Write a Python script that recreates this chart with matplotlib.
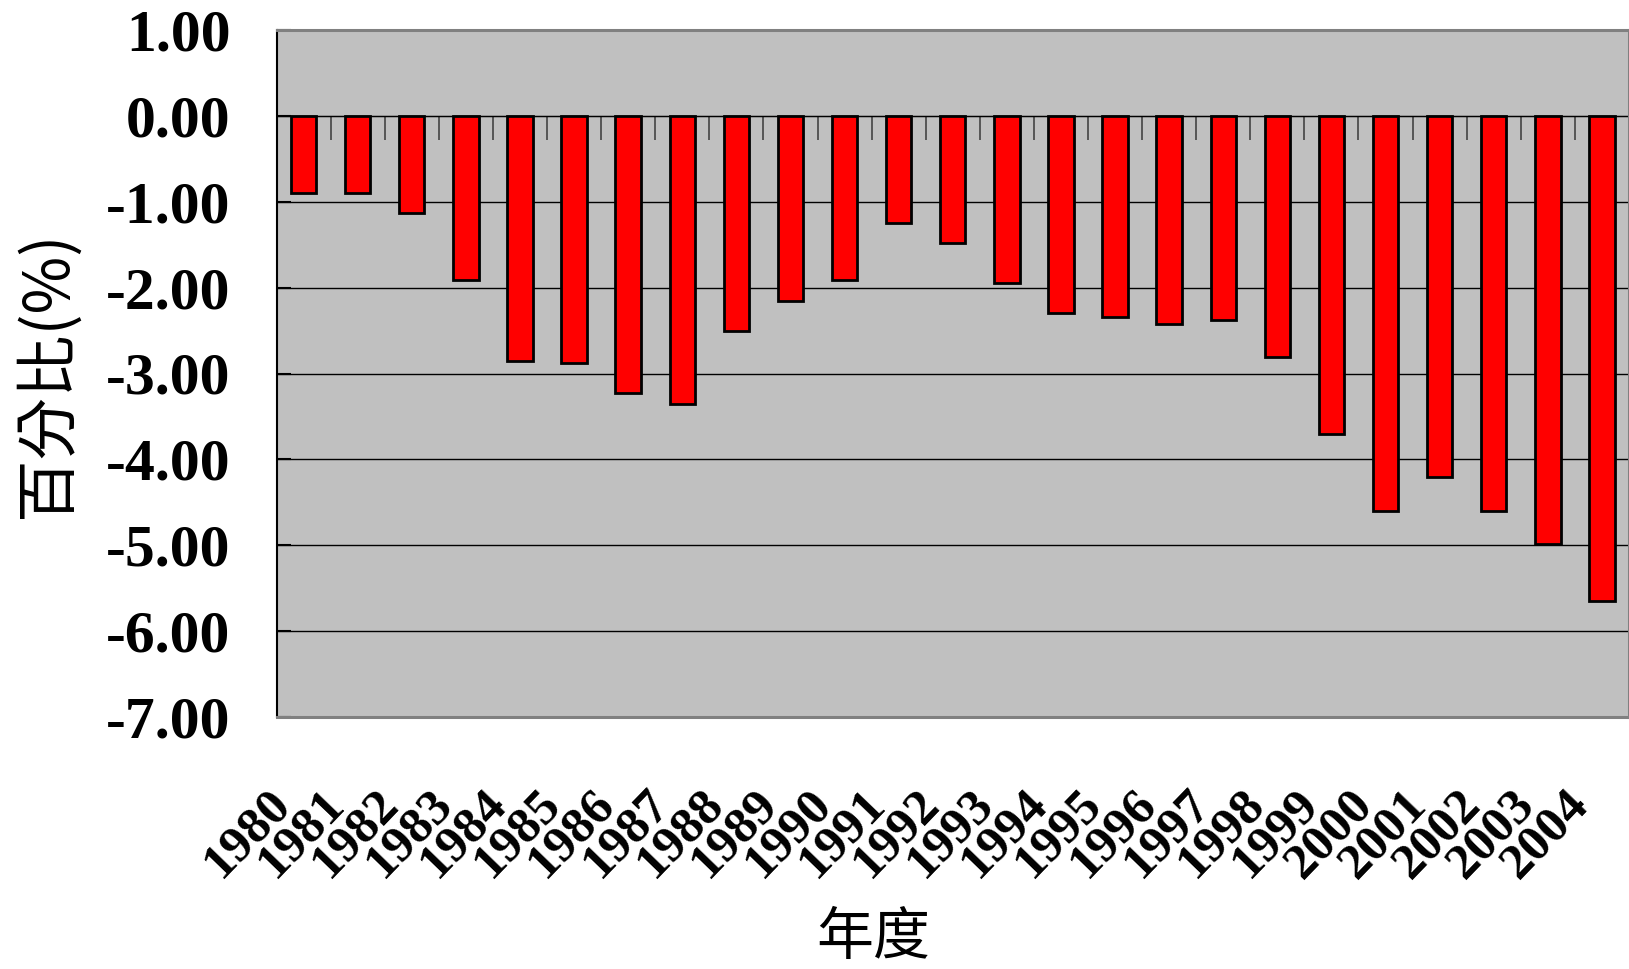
import matplotlib
matplotlib.use("Agg")
import matplotlib.pyplot as plt
import matplotlib.transforms as mtransforms
import numpy as np

# Annual percentage values, 1980-2004
years = [str(y) for y in range(1980, 2005)]
values = [-0.90, -0.90, -1.13, -1.91, -2.85, -2.88, -3.23, -3.35, -2.50, -2.15,
          -1.91, -1.25, -1.48, -1.95, -2.30, -2.34, -2.42, -2.38, -2.81, -3.70,
          -4.60, -4.21, -4.60, -4.99, -5.65]
y_ticks = [1.0, 0.0, -1.0, -2.0, -3.0, -4.0, -5.0, -6.0, -7.0]
y_label = "百分比(%)"
x_label = "年度"

num_font = "Liberation Serif"
cjk_font = ["Noto Sans CJK TC", "DejaVu Sans"]

fig = plt.figure(figsize=(16.29, 9.69), dpi=100)
ax = fig.add_axes([276.5 / 1629, 1 - 717 / 969, 1 - 276.5 / 1629, (717 - 30) / 969])
ax.set_facecolor("#C0C0C0")

x = np.arange(len(years))
ax.bar(x, values, width=0.47, color="#FF0000", edgecolor="black", linewidth=2.0, zorder=3)

ymin, ymax = -7.0, 1.0
ax.set_ylim(ymin, ymax)
ax.set_xlim(-0.5, len(years) - 0.5)

# horizontal gridlines
for v in y_ticks[1:-1]:
    ax.axhline(v, color="black", linewidth=1.0, zorder=1)

# y axis
ax.set_yticks(y_ticks)
ax.set_yticklabels([f"{v:.2f}" for v in y_ticks], fontfamily=num_font,
                   fontweight="bold", fontsize=43)
ax.tick_params(axis="y", direction="in", length=10, width=1.5, pad=33, colors="black")

# category labels below the plot
ax.set_xticks(x)
ax.set_xticklabels(years, fontfamily=num_font, fontweight="bold", fontsize=37,
                   rotation=46, ha="right", va="top")
ax.tick_params(axis="x", length=0, pad=46)
shift = mtransforms.ScaledTranslation(-4 / 100, 0, fig.dpi_scale_trans)
for lab in ax.get_xticklabels():
    lab.set_transform(lab.get_transform() + shift)

# category axis drawn along zero, with boundary ticks pointing up
zero_frac = (0 - ymin) / (ymax - ymin)
sec = ax.secondary_xaxis(zero_frac)
sec.set_xticks(np.arange(len(years) - 1) + 0.5)
sec.set_xticklabels([])
sec.tick_params(axis="x", direction="in", length=17, width=1.2, colors="#444444")
sec.spines["bottom"].set_color("black")
sec.spines["bottom"].set_linewidth(1.2)
sec.spines["bottom"].set_zorder(4)

# plot frame
ax.spines["left"].set_color("black")
ax.spines["left"].set_linewidth(1.5)
for side in ("top", "bottom", "right"):
    ax.spines[side].set_color("#808080")
    ax.spines[side].set_linewidth(2.2)

fig.text(47 / 1629, 1 - 374 / 969, y_label, rotation=90, ha="center", va="center",
         fontsize=45, family=cjk_font)
fig.text(873 / 1629, 1 - 938 / 969, x_label, ha="center", va="center",
         fontsize=41, family=cjk_font)

fig.savefig("out.png", dpi=100, facecolor="white")
